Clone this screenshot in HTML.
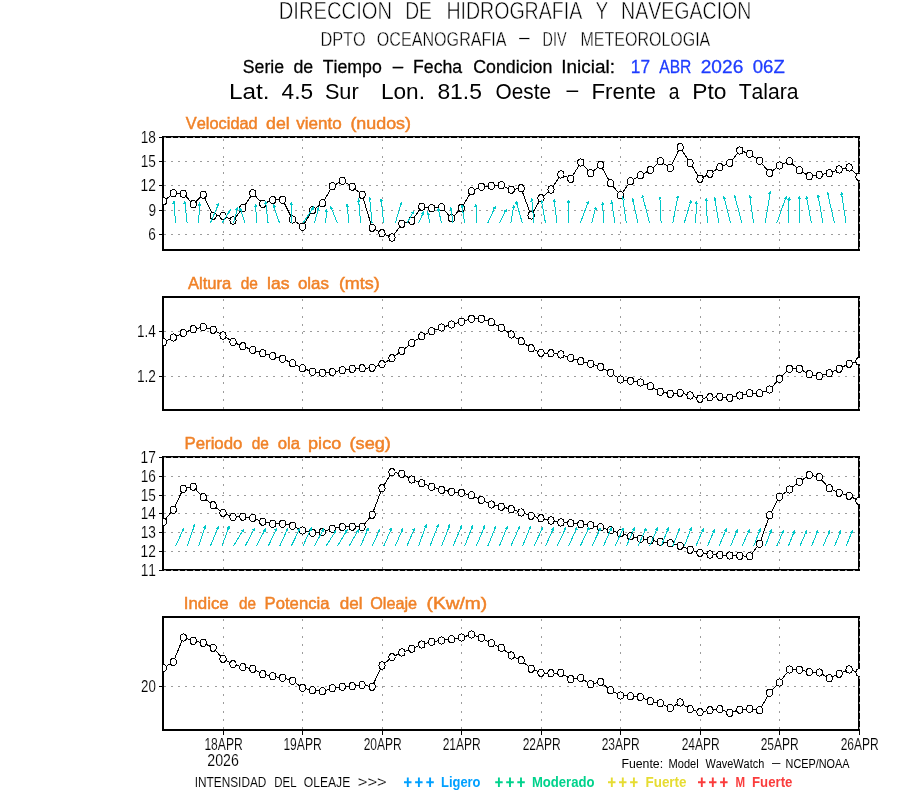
<!DOCTYPE html>
<html lang="es"><head><meta charset="utf-8"><title>Serie de Tiempo - Oleaje</title>
<style>html,body{margin:0;padding:0;background:#fff}body{width:900px;height:800px;overflow:hidden}svg{display:block;font-family:"Liberation Sans",sans-serif;font-kerning:none;will-change:transform}.g{stroke:#9c9c9c;stroke-width:1;fill:none;shape-rendering:crispEdges}.f{stroke:#000;stroke-width:2;fill:none}.l{stroke:#000;stroke-width:1;fill:none;stroke-linejoin:round;shape-rendering:crispEdges}.m{stroke:#000;stroke-width:1;fill:#fff;shape-rendering:crispEdges}.a{stroke:#00c8c8;stroke-width:1;fill:none;stroke-linecap:butt;shape-rendering:crispEdges}.t{stroke:#000;stroke-width:1;fill:none;shape-rendering:crispEdges}</style></head><body>
<svg width="900" height="800" viewBox="0 0 900 800">
<rect width="900" height="800" fill="#fff"/>
<g font-size="24.71" fill="#000" stroke="#fff" stroke-width="0.55">
<text x="278.8" y="19.0" textLength="113.2" lengthAdjust="spacingAndGlyphs">DIRECCION</text>
<text x="405.2" y="19.0" textLength="26.8" lengthAdjust="spacingAndGlyphs">DE</text>
<text x="446.4" y="19.0" textLength="135.8" lengthAdjust="spacingAndGlyphs">HIDROGRAFIA</text>
<text x="595.5" y="19.0" textLength="12.8" lengthAdjust="spacingAndGlyphs">Y</text>
<text x="621.1" y="19.0" textLength="130.3" lengthAdjust="spacingAndGlyphs">NAVEGACION</text>
</g>
<g font-size="20.35" fill="#000" stroke="#fff" stroke-width="0.40">
<text x="320.4" y="46.0" textLength="45.4" lengthAdjust="spacingAndGlyphs">DPTO</text>
<text x="376.8" y="46.0" textLength="129.8" lengthAdjust="spacingAndGlyphs">OCEANOGRAFIA</text>
<text x="519.0" y="44.3" textLength="10.7" lengthAdjust="spacingAndGlyphs">&#8211;</text>
<text x="542.6" y="46.0" textLength="24.0" lengthAdjust="spacingAndGlyphs">DIV</text>
<text x="580.5" y="46.0" textLength="129.8" lengthAdjust="spacingAndGlyphs">METEOROLOGIA</text>
</g>
<g font-size="18.60" fill="#000" stroke="#000" stroke-width="0.28">
<text x="242.8" y="73.0" textLength="41.2" lengthAdjust="spacingAndGlyphs">Serie</text>
<text x="293.5" y="73.0" textLength="19.7" lengthAdjust="spacingAndGlyphs">de</text>
<text x="322.7" y="73.0" textLength="59.1" lengthAdjust="spacingAndGlyphs">Tiempo</text>
<text x="392.7" y="71.5" textLength="10.4" lengthAdjust="spacingAndGlyphs">&#8211;</text>
<text x="413.1" y="73.0" textLength="49.0" lengthAdjust="spacingAndGlyphs">Fecha</text>
<text x="473.2" y="73.0" textLength="79.1" lengthAdjust="spacingAndGlyphs">Condicion</text>
<text x="561.3" y="73.0" textLength="53.6" lengthAdjust="spacingAndGlyphs">Inicial:</text>
</g>
<g font-size="18.60" fill="#1e3cff" stroke="#1e3cff" stroke-width="0.28">
<text x="630.8" y="73.0" textLength="19.2" lengthAdjust="spacingAndGlyphs">17</text>
<text x="659.2" y="73.0" textLength="32.2" lengthAdjust="spacingAndGlyphs">ABR</text>
<text x="700.7" y="73.0" textLength="42.6" lengthAdjust="spacingAndGlyphs">2026</text>
<text x="752.8" y="73.0" textLength="32.0" lengthAdjust="spacingAndGlyphs">06Z</text>
</g>
<g font-size="21.37" fill="#000">
<text x="229.0" y="98.7" textLength="40.6" lengthAdjust="spacingAndGlyphs">Lat.</text>
<text x="281.6" y="98.7" textLength="31.5" lengthAdjust="spacingAndGlyphs">4.5</text>
<text x="324.9" y="98.7" textLength="33.8" lengthAdjust="spacingAndGlyphs">Sur</text>
<text x="380.9" y="98.7" textLength="44.1" lengthAdjust="spacingAndGlyphs">Lon.</text>
<text x="437.4" y="98.7" textLength="44.5" lengthAdjust="spacingAndGlyphs">81.5</text>
<text x="495.5" y="98.7" textLength="55.5" lengthAdjust="spacingAndGlyphs">Oeste</text>
<text x="566.4" y="96.9" textLength="11.7" lengthAdjust="spacingAndGlyphs">&#8211;</text>
<text x="591.4" y="98.7" textLength="64.6" lengthAdjust="spacingAndGlyphs">Frente</text>
<text x="668.7" y="98.7" textLength="10.7" lengthAdjust="spacingAndGlyphs">a</text>
<text x="692.2" y="98.7" textLength="34.2" lengthAdjust="spacingAndGlyphs">Pto</text>
<text x="738.7" y="98.7" textLength="59.9" lengthAdjust="spacingAndGlyphs">Talara</text>
</g>
<clipPath id="c0"><rect x="163.0" y="136.0" width="697.0" height="115.0"/></clipPath>
<g font-size="15.84" fill="#f08228" stroke="#f08228" stroke-width="0.45">
<text x="185.8" y="128.7" textLength="71.9" lengthAdjust="spacingAndGlyphs">Velocidad</text>
<text x="266.1" y="128.7" textLength="23.6" lengthAdjust="spacingAndGlyphs">del</text>
<text x="296.2" y="128.7" textLength="45.5" lengthAdjust="spacingAndGlyphs">viento</text>
<text x="350.4" y="128.7" textLength="60.6" lengthAdjust="spacingAndGlyphs">(nudos)</text>
</g>
<rect class="f" x="163.0" y="137.0" width="696.0" height="113.0"/>
<path class="g" stroke-dasharray="2 5.33" d="M163.5 137.5H860.0M163.5 161.5H860.0M163.5 185.5H860.0M163.5 210.5H860.0M163.5 234.5H860.0"/>
<path class="g" stroke-dasharray="2 6.33" d="M223.5 249.2V137.0M302.5 249.2V137.0M382.5 249.2V137.0M461.5 249.2V137.0M541.5 249.2V137.0M620.5 249.2V137.0M700.5 249.2V137.0M779.5 249.2V137.0M859.5 249.2V137.0"/>
<path class="t" d="M159.0 137.5H162.0M159.0 161.5H162.0M159.0 185.5H162.0M159.0 210.5H162.0M159.0 234.5H162.0"/>
<g font-size="16.57" fill="#000" stroke="#fff" stroke-width="0.15">
<text x="140.7" y="143.2" textLength="15.2" lengthAdjust="spacingAndGlyphs">18</text>
</g>
<g font-size="16.57" fill="#000" stroke="#fff" stroke-width="0.15">
<text x="140.7" y="167.2" textLength="15.2" lengthAdjust="spacingAndGlyphs">15</text>
</g>
<g font-size="16.57" fill="#000" stroke="#fff" stroke-width="0.15">
<text x="140.6" y="191.2" textLength="15.3" lengthAdjust="spacingAndGlyphs">12</text>
</g>
<g font-size="16.57" fill="#000" stroke="#fff" stroke-width="0.15">
<text x="148.4" y="216.2" textLength="7.6" lengthAdjust="spacingAndGlyphs">9</text>
</g>
<g font-size="16.57" fill="#000" stroke="#fff" stroke-width="0.15">
<text x="148.3" y="240.2" textLength="7.6" lengthAdjust="spacingAndGlyphs">6</text>
</g>
<g clip-path="url(#c0)">
<polyline class="l" points="163.4,201.3 173.3,193.3 183.3,193.7 193.2,204.2 203.2,194.7 213.1,215.8 223.0,215.8 233.0,220.5 242.9,208.0 252.8,193.3 262.8,203.8 272.7,200.0 282.6,199.7 292.6,219.5 302.5,226.7 312.5,210.3 322.4,203.3 332.3,186.3 342.3,180.8 352.2,186.7 362.1,194.7 372.1,227.8 382.0,233.3 392.0,237.5 401.9,223.7 411.8,220.8 421.8,206.7 431.7,208.3 441.6,207.2 451.6,218.3 461.5,208.0 471.5,191.2 481.4,186.7 491.3,185.8 501.3,185.3 511.2,189.7 521.1,188.3 531.1,215.5 541.0,198.3 551.0,189.5 560.9,174.5 570.8,178.8 580.8,162.5 590.7,173.3 600.6,165.0 610.6,183.3 620.5,195.3 630.5,181.3 640.4,175.3 650.3,170.0 660.3,161.3 670.2,168.0 680.1,147.2 690.1,163.0 700.0,178.7 710.0,173.7 719.9,167.2 729.8,163.0 739.8,150.5 749.7,153.7 759.6,160.8 769.6,173.0 779.5,165.5 789.5,161.2 799.4,170.3 809.3,176.2 819.3,174.7 829.2,173.3 839.1,169.5 849.1,167.5 859.0,176.7"/>
<ellipse class="m" cx="163.4" cy="201.3" rx="3.1" ry="3.6"/>
<ellipse class="m" cx="173.3" cy="193.3" rx="3.1" ry="3.6"/>
<ellipse class="m" cx="183.3" cy="193.7" rx="3.1" ry="3.6"/>
<ellipse class="m" cx="193.2" cy="204.2" rx="3.1" ry="3.6"/>
<ellipse class="m" cx="203.2" cy="194.7" rx="3.1" ry="3.6"/>
<ellipse class="m" cx="213.1" cy="215.8" rx="3.1" ry="3.6"/>
<ellipse class="m" cx="223.0" cy="215.8" rx="3.1" ry="3.6"/>
<ellipse class="m" cx="233.0" cy="220.5" rx="3.1" ry="3.6"/>
<ellipse class="m" cx="242.9" cy="208.0" rx="3.1" ry="3.6"/>
<ellipse class="m" cx="252.8" cy="193.3" rx="3.1" ry="3.6"/>
<ellipse class="m" cx="262.8" cy="203.8" rx="3.1" ry="3.6"/>
<ellipse class="m" cx="272.7" cy="200.0" rx="3.1" ry="3.6"/>
<ellipse class="m" cx="282.6" cy="199.7" rx="3.1" ry="3.6"/>
<ellipse class="m" cx="292.6" cy="219.5" rx="3.1" ry="3.6"/>
<ellipse class="m" cx="302.5" cy="226.7" rx="3.1" ry="3.6"/>
<ellipse class="m" cx="312.5" cy="210.3" rx="3.1" ry="3.6"/>
<ellipse class="m" cx="322.4" cy="203.3" rx="3.1" ry="3.6"/>
<ellipse class="m" cx="332.3" cy="186.3" rx="3.1" ry="3.6"/>
<ellipse class="m" cx="342.3" cy="180.8" rx="3.1" ry="3.6"/>
<ellipse class="m" cx="352.2" cy="186.7" rx="3.1" ry="3.6"/>
<ellipse class="m" cx="362.1" cy="194.7" rx="3.1" ry="3.6"/>
<ellipse class="m" cx="372.1" cy="227.8" rx="3.1" ry="3.6"/>
<ellipse class="m" cx="382.0" cy="233.3" rx="3.1" ry="3.6"/>
<ellipse class="m" cx="392.0" cy="237.5" rx="3.1" ry="3.6"/>
<ellipse class="m" cx="401.9" cy="223.7" rx="3.1" ry="3.6"/>
<ellipse class="m" cx="411.8" cy="220.8" rx="3.1" ry="3.6"/>
<ellipse class="m" cx="421.8" cy="206.7" rx="3.1" ry="3.6"/>
<ellipse class="m" cx="431.7" cy="208.3" rx="3.1" ry="3.6"/>
<ellipse class="m" cx="441.6" cy="207.2" rx="3.1" ry="3.6"/>
<ellipse class="m" cx="451.6" cy="218.3" rx="3.1" ry="3.6"/>
<ellipse class="m" cx="461.5" cy="208.0" rx="3.1" ry="3.6"/>
<ellipse class="m" cx="471.5" cy="191.2" rx="3.1" ry="3.6"/>
<ellipse class="m" cx="481.4" cy="186.7" rx="3.1" ry="3.6"/>
<ellipse class="m" cx="491.3" cy="185.8" rx="3.1" ry="3.6"/>
<ellipse class="m" cx="501.3" cy="185.3" rx="3.1" ry="3.6"/>
<ellipse class="m" cx="511.2" cy="189.7" rx="3.1" ry="3.6"/>
<ellipse class="m" cx="521.1" cy="188.3" rx="3.1" ry="3.6"/>
<ellipse class="m" cx="531.1" cy="215.5" rx="3.1" ry="3.6"/>
<ellipse class="m" cx="541.0" cy="198.3" rx="3.1" ry="3.6"/>
<ellipse class="m" cx="551.0" cy="189.5" rx="3.1" ry="3.6"/>
<ellipse class="m" cx="560.9" cy="174.5" rx="3.1" ry="3.6"/>
<ellipse class="m" cx="570.8" cy="178.8" rx="3.1" ry="3.6"/>
<ellipse class="m" cx="580.8" cy="162.5" rx="3.1" ry="3.6"/>
<ellipse class="m" cx="590.7" cy="173.3" rx="3.1" ry="3.6"/>
<ellipse class="m" cx="600.6" cy="165.0" rx="3.1" ry="3.6"/>
<ellipse class="m" cx="610.6" cy="183.3" rx="3.1" ry="3.6"/>
<ellipse class="m" cx="620.5" cy="195.3" rx="3.1" ry="3.6"/>
<ellipse class="m" cx="630.5" cy="181.3" rx="3.1" ry="3.6"/>
<ellipse class="m" cx="640.4" cy="175.3" rx="3.1" ry="3.6"/>
<ellipse class="m" cx="650.3" cy="170.0" rx="3.1" ry="3.6"/>
<ellipse class="m" cx="660.3" cy="161.3" rx="3.1" ry="3.6"/>
<ellipse class="m" cx="670.2" cy="168.0" rx="3.1" ry="3.6"/>
<ellipse class="m" cx="680.1" cy="147.2" rx="3.1" ry="3.6"/>
<ellipse class="m" cx="690.1" cy="163.0" rx="3.1" ry="3.6"/>
<ellipse class="m" cx="700.0" cy="178.7" rx="3.1" ry="3.6"/>
<ellipse class="m" cx="710.0" cy="173.7" rx="3.1" ry="3.6"/>
<ellipse class="m" cx="719.9" cy="167.2" rx="3.1" ry="3.6"/>
<ellipse class="m" cx="729.8" cy="163.0" rx="3.1" ry="3.6"/>
<ellipse class="m" cx="739.8" cy="150.5" rx="3.1" ry="3.6"/>
<ellipse class="m" cx="749.7" cy="153.7" rx="3.1" ry="3.6"/>
<ellipse class="m" cx="759.6" cy="160.8" rx="3.1" ry="3.6"/>
<ellipse class="m" cx="769.6" cy="173.0" rx="3.1" ry="3.6"/>
<ellipse class="m" cx="779.5" cy="165.5" rx="3.1" ry="3.6"/>
<ellipse class="m" cx="789.5" cy="161.2" rx="3.1" ry="3.6"/>
<ellipse class="m" cx="799.4" cy="170.3" rx="3.1" ry="3.6"/>
<ellipse class="m" cx="809.3" cy="176.2" rx="3.1" ry="3.6"/>
<ellipse class="m" cx="819.3" cy="174.7" rx="3.1" ry="3.6"/>
<ellipse class="m" cx="829.2" cy="173.3" rx="3.1" ry="3.6"/>
<ellipse class="m" cx="839.1" cy="169.5" rx="3.1" ry="3.6"/>
<ellipse class="m" cx="849.1" cy="167.5" rx="3.1" ry="3.6"/>
<ellipse class="m" cx="859.0" cy="176.7" rx="3.1" ry="3.6"/>
<path class="a" d="M175.6 223.3L173.9 201.3M175.3 203.6L173.9 201.3L172.9 203.8M187.2 223.3L184.7 201.6M186.1 203.8L184.7 201.6L183.7 204.1M198.7 223.3L199.5 203.3M200.6 205.7L199.5 203.3L198.2 205.7M210.3 223.3L218.8 203.3M218.9 206.0L218.8 203.3L216.7 205.0M221.8 223.3L230.1 210.3M229.9 213.0L230.1 210.3L227.8 211.7M233.4 223.3L237.6 207.8M238.1 210.4L237.6 207.8L235.8 209.8M245.0 223.3L240.0 208.3M241.9 210.2L240.0 208.3L239.6 211.0M256.5 223.3L255.7 205.0M257.0 207.3L255.7 205.0L254.6 207.5M268.1 223.3L265.6 201.6M267.0 203.8L265.6 201.6L264.7 204.1M279.6 223.3L273.4 205.0M275.3 206.9L273.4 205.0L273.1 207.7M291.2 223.3L291.2 203.0M292.4 205.4L291.2 203.0L290.0 205.4M302.8 223.3L313.6 207.0M313.2 209.7L313.6 207.0L311.2 208.3M314.3 223.3L318.6 208.0M319.1 210.6L318.6 208.0L316.8 210.0M325.9 223.3L326.2 209.6M327.3 212.0L326.2 209.6L324.9 212.0M337.4 223.3L330.7 206.6M332.7 208.4L330.7 206.6L330.5 209.3M349.0 223.3L347.0 204.6M348.4 206.9L347.0 204.6L346.1 207.1M360.6 223.3L358.6 199.6M360.0 201.9L358.6 199.6L357.6 202.1M372.1 223.3L369.6 198.0M371.1 200.3L369.6 198.0L368.7 200.5M383.7 223.3L381.2 199.1M382.6 201.4L381.2 199.1L380.2 201.6M395.2 223.3L401.5 202.5M402.0 205.1L401.5 202.5L399.7 204.4M406.8 223.3L413.5 211.6M413.3 214.3L413.5 211.6L411.3 213.1M418.4 223.3L423.7 212.0M423.7 214.7L423.7 212.0L421.6 213.7M429.9 223.3L427.7 212.5M429.4 214.6L427.7 212.5L427.0 215.1M441.5 223.3L438.2 208.3M439.9 210.4L438.2 208.3L437.5 210.9M453.0 223.3L450.8 208.0M452.4 210.2L450.8 208.0L450.0 210.5M464.6 223.3L461.9 205.0M463.4 207.2L461.9 205.0L461.1 207.5M476.2 223.3L476.0 204.6M477.2 207.0L476.0 204.6L474.8 207.0M487.7 223.3L495.2 206.6M495.3 209.3L495.2 206.6L493.1 208.3M499.3 223.3L506.3 209.6M506.3 212.3L506.3 209.6L504.1 211.2M510.8 223.3L513.8 205.8M514.6 208.4L513.8 205.8L512.3 208.0M522.4 223.3L516.2 201.6M518.0 203.6L516.2 201.6L515.7 204.2M534.0 223.3L531.7 199.1M533.1 201.4L531.7 199.1L530.7 201.6M545.5 223.3L541.5 200.8M543.1 203.0L541.5 200.8L540.8 203.4M557.1 223.3L554.1 199.6M555.6 201.8L554.1 199.6L553.2 202.1M568.6 223.3L568.3 200.3M569.6 202.7L568.3 200.3L567.2 202.7M580.2 223.3L588.5 201.3M588.8 204.0L588.5 201.3L586.5 203.1M591.8 223.3L595.8 207.0M596.4 209.6L595.8 207.0L594.0 209.0M603.3 223.3L602.8 202.5M604.1 204.9L602.8 202.5L601.7 204.9M614.9 223.3L611.6 201.3M613.1 203.5L611.6 201.3L610.7 203.9M626.4 223.3L622.7 197.5M624.3 199.7L622.7 197.5L621.9 200.0M638.0 223.3L632.7 199.1M634.4 201.2L632.7 199.1L632.0 201.7M649.6 223.3L642.4 195.3M644.1 197.3L642.4 195.3L641.8 197.9M661.1 223.3L659.9 197.0M661.2 199.3L659.9 197.0L658.8 199.5M672.7 223.3L678.0 195.8M678.7 198.4L678.0 195.8L676.3 197.9M684.2 223.3L690.9 200.8M691.4 203.4L690.9 200.8L689.1 202.8M695.8 223.3L696.3 201.6M697.4 204.0L696.3 201.6L695.0 204.0M707.4 223.3L706.2 198.6M707.5 200.9L706.2 198.6L705.1 201.1M718.9 223.3L714.6 198.0M716.2 200.2L714.6 198.0L713.8 200.6M730.5 223.3L723.8 196.6M725.5 198.6L723.8 196.6L723.2 199.2M742.0 223.3L734.5 195.3M736.3 197.3L734.5 195.3L734.0 197.9M753.6 223.3L749.8 195.8M751.3 198.0L749.8 195.8L748.9 198.3M765.2 223.3L770.4 191.6M771.2 194.2L770.4 191.6L768.8 193.8M776.7 223.3L786.2 196.6M786.5 199.3L786.2 196.6L784.3 198.5M788.3 223.3L789.1 197.5M790.2 199.9L789.1 197.5L787.8 199.9M799.8 223.3L799.1 196.6M800.4 199.0L799.1 196.6L798.0 199.0M811.4 223.3L806.4 196.3M808.0 198.4L806.4 196.3L805.7 198.9M823.0 223.3L818.0 195.0M819.6 197.2L818.0 195.0L817.2 197.6M834.5 223.3L827.5 192.5M829.2 194.6L827.5 192.5L826.9 195.1M846.1 223.3L841.4 192.5M842.9 194.7L841.4 192.5L840.6 195.1"/>
</g>
<clipPath id="c1"><rect x="163.0" y="296.0" width="697.0" height="115.0"/></clipPath>
<g font-size="15.84" fill="#f08228" stroke="#f08228" stroke-width="0.45">
<text x="187.9" y="288.7" textLength="43.4" lengthAdjust="spacingAndGlyphs">Altura</text>
<text x="240.7" y="288.7" textLength="17.2" lengthAdjust="spacingAndGlyphs">de</text>
<text x="267.1" y="288.7" textLength="22.5" lengthAdjust="spacingAndGlyphs">las</text>
<text x="297.9" y="288.7" textLength="31.1" lengthAdjust="spacingAndGlyphs">olas</text>
<text x="338.9" y="288.7" textLength="40.9" lengthAdjust="spacingAndGlyphs">(mts)</text>
</g>
<rect class="f" x="163.0" y="297.0" width="696.0" height="113.0"/>
<path class="g" stroke-dasharray="2 5.33" d="M163.5 331.5H860.0M163.5 376.5H860.0"/>
<path class="g" stroke-dasharray="2 6.33" d="M223.5 409.2V297.0M302.5 409.2V297.0M382.5 409.2V297.0M461.5 409.2V297.0M541.5 409.2V297.0M620.5 409.2V297.0M700.5 409.2V297.0M779.5 409.2V297.0M859.5 409.2V297.0"/>
<path class="t" d="M159.0 331.5H162.0M159.0 376.5H162.0"/>
<g font-size="16.57" fill="#000" stroke="#fff" stroke-width="0.15">
<text x="136.9" y="337.2" textLength="18.8" lengthAdjust="spacingAndGlyphs">1.4</text>
</g>
<g font-size="16.57" fill="#000" stroke="#fff" stroke-width="0.15">
<text x="136.9" y="382.2" textLength="19.1" lengthAdjust="spacingAndGlyphs">1.2</text>
</g>
<g clip-path="url(#c1)">
<polyline class="l" points="163.4,342.2 173.3,337.5 183.3,333.0 193.2,329.2 203.2,327.0 213.1,329.7 223.0,335.5 233.0,342.0 242.9,346.3 252.8,350.0 262.8,353.3 272.7,356.0 282.6,358.7 292.6,363.3 302.5,368.3 312.5,371.7 322.4,372.8 332.3,372.0 342.3,370.3 352.2,368.8 362.1,368.3 372.1,367.8 382.0,364.2 392.0,358.3 401.9,350.8 411.8,343.0 421.8,336.3 431.7,331.3 441.6,327.5 451.6,324.5 461.5,321.7 471.5,318.8 481.4,318.8 491.3,322.2 501.3,327.8 511.2,334.5 521.1,341.3 531.1,348.3 541.0,352.8 551.0,353.3 560.9,354.5 570.8,358.0 580.8,361.2 590.7,363.7 600.6,367.0 610.6,372.8 620.5,379.5 630.5,380.8 640.4,382.5 650.3,386.3 660.3,391.7 670.2,393.8 680.1,392.8 690.1,395.5 700.0,398.7 710.0,397.3 719.9,396.7 729.8,397.8 739.8,395.5 749.7,393.3 759.6,393.3 769.6,389.5 779.5,378.8 789.5,368.8 799.4,368.8 809.3,374.2 819.3,376.2 829.2,373.3 839.1,368.7 849.1,363.7 859.0,361.3"/>
<ellipse class="m" cx="163.4" cy="342.2" rx="3.1" ry="3.6"/>
<ellipse class="m" cx="173.3" cy="337.5" rx="3.1" ry="3.6"/>
<ellipse class="m" cx="183.3" cy="333.0" rx="3.1" ry="3.6"/>
<ellipse class="m" cx="193.2" cy="329.2" rx="3.1" ry="3.6"/>
<ellipse class="m" cx="203.2" cy="327.0" rx="3.1" ry="3.6"/>
<ellipse class="m" cx="213.1" cy="329.7" rx="3.1" ry="3.6"/>
<ellipse class="m" cx="223.0" cy="335.5" rx="3.1" ry="3.6"/>
<ellipse class="m" cx="233.0" cy="342.0" rx="3.1" ry="3.6"/>
<ellipse class="m" cx="242.9" cy="346.3" rx="3.1" ry="3.6"/>
<ellipse class="m" cx="252.8" cy="350.0" rx="3.1" ry="3.6"/>
<ellipse class="m" cx="262.8" cy="353.3" rx="3.1" ry="3.6"/>
<ellipse class="m" cx="272.7" cy="356.0" rx="3.1" ry="3.6"/>
<ellipse class="m" cx="282.6" cy="358.7" rx="3.1" ry="3.6"/>
<ellipse class="m" cx="292.6" cy="363.3" rx="3.1" ry="3.6"/>
<ellipse class="m" cx="302.5" cy="368.3" rx="3.1" ry="3.6"/>
<ellipse class="m" cx="312.5" cy="371.7" rx="3.1" ry="3.6"/>
<ellipse class="m" cx="322.4" cy="372.8" rx="3.1" ry="3.6"/>
<ellipse class="m" cx="332.3" cy="372.0" rx="3.1" ry="3.6"/>
<ellipse class="m" cx="342.3" cy="370.3" rx="3.1" ry="3.6"/>
<ellipse class="m" cx="352.2" cy="368.8" rx="3.1" ry="3.6"/>
<ellipse class="m" cx="362.1" cy="368.3" rx="3.1" ry="3.6"/>
<ellipse class="m" cx="372.1" cy="367.8" rx="3.1" ry="3.6"/>
<ellipse class="m" cx="382.0" cy="364.2" rx="3.1" ry="3.6"/>
<ellipse class="m" cx="392.0" cy="358.3" rx="3.1" ry="3.6"/>
<ellipse class="m" cx="401.9" cy="350.8" rx="3.1" ry="3.6"/>
<ellipse class="m" cx="411.8" cy="343.0" rx="3.1" ry="3.6"/>
<ellipse class="m" cx="421.8" cy="336.3" rx="3.1" ry="3.6"/>
<ellipse class="m" cx="431.7" cy="331.3" rx="3.1" ry="3.6"/>
<ellipse class="m" cx="441.6" cy="327.5" rx="3.1" ry="3.6"/>
<ellipse class="m" cx="451.6" cy="324.5" rx="3.1" ry="3.6"/>
<ellipse class="m" cx="461.5" cy="321.7" rx="3.1" ry="3.6"/>
<ellipse class="m" cx="471.5" cy="318.8" rx="3.1" ry="3.6"/>
<ellipse class="m" cx="481.4" cy="318.8" rx="3.1" ry="3.6"/>
<ellipse class="m" cx="491.3" cy="322.2" rx="3.1" ry="3.6"/>
<ellipse class="m" cx="501.3" cy="327.8" rx="3.1" ry="3.6"/>
<ellipse class="m" cx="511.2" cy="334.5" rx="3.1" ry="3.6"/>
<ellipse class="m" cx="521.1" cy="341.3" rx="3.1" ry="3.6"/>
<ellipse class="m" cx="531.1" cy="348.3" rx="3.1" ry="3.6"/>
<ellipse class="m" cx="541.0" cy="352.8" rx="3.1" ry="3.6"/>
<ellipse class="m" cx="551.0" cy="353.3" rx="3.1" ry="3.6"/>
<ellipse class="m" cx="560.9" cy="354.5" rx="3.1" ry="3.6"/>
<ellipse class="m" cx="570.8" cy="358.0" rx="3.1" ry="3.6"/>
<ellipse class="m" cx="580.8" cy="361.2" rx="3.1" ry="3.6"/>
<ellipse class="m" cx="590.7" cy="363.7" rx="3.1" ry="3.6"/>
<ellipse class="m" cx="600.6" cy="367.0" rx="3.1" ry="3.6"/>
<ellipse class="m" cx="610.6" cy="372.8" rx="3.1" ry="3.6"/>
<ellipse class="m" cx="620.5" cy="379.5" rx="3.1" ry="3.6"/>
<ellipse class="m" cx="630.5" cy="380.8" rx="3.1" ry="3.6"/>
<ellipse class="m" cx="640.4" cy="382.5" rx="3.1" ry="3.6"/>
<ellipse class="m" cx="650.3" cy="386.3" rx="3.1" ry="3.6"/>
<ellipse class="m" cx="660.3" cy="391.7" rx="3.1" ry="3.6"/>
<ellipse class="m" cx="670.2" cy="393.8" rx="3.1" ry="3.6"/>
<ellipse class="m" cx="680.1" cy="392.8" rx="3.1" ry="3.6"/>
<ellipse class="m" cx="690.1" cy="395.5" rx="3.1" ry="3.6"/>
<ellipse class="m" cx="700.0" cy="398.7" rx="3.1" ry="3.6"/>
<ellipse class="m" cx="710.0" cy="397.3" rx="3.1" ry="3.6"/>
<ellipse class="m" cx="719.9" cy="396.7" rx="3.1" ry="3.6"/>
<ellipse class="m" cx="729.8" cy="397.8" rx="3.1" ry="3.6"/>
<ellipse class="m" cx="739.8" cy="395.5" rx="3.1" ry="3.6"/>
<ellipse class="m" cx="749.7" cy="393.3" rx="3.1" ry="3.6"/>
<ellipse class="m" cx="759.6" cy="393.3" rx="3.1" ry="3.6"/>
<ellipse class="m" cx="769.6" cy="389.5" rx="3.1" ry="3.6"/>
<ellipse class="m" cx="779.5" cy="378.8" rx="3.1" ry="3.6"/>
<ellipse class="m" cx="789.5" cy="368.8" rx="3.1" ry="3.6"/>
<ellipse class="m" cx="799.4" cy="368.8" rx="3.1" ry="3.6"/>
<ellipse class="m" cx="809.3" cy="374.2" rx="3.1" ry="3.6"/>
<ellipse class="m" cx="819.3" cy="376.2" rx="3.1" ry="3.6"/>
<ellipse class="m" cx="829.2" cy="373.3" rx="3.1" ry="3.6"/>
<ellipse class="m" cx="839.1" cy="368.7" rx="3.1" ry="3.6"/>
<ellipse class="m" cx="849.1" cy="363.7" rx="3.1" ry="3.6"/>
<ellipse class="m" cx="859.0" cy="361.3" rx="3.1" ry="3.6"/>
</g>
<clipPath id="c2"><rect x="163.0" y="456.0" width="697.0" height="115.0"/></clipPath>
<g font-size="15.84" fill="#f08228" stroke="#f08228" stroke-width="0.45">
<text x="184.5" y="448.7" textLength="57.9" lengthAdjust="spacingAndGlyphs">Periodo</text>
<text x="251.7" y="448.7" textLength="17.2" lengthAdjust="spacingAndGlyphs">de</text>
<text x="277.7" y="448.7" textLength="22.3" lengthAdjust="spacingAndGlyphs">ola</text>
<text x="308.1" y="448.7" textLength="33.1" lengthAdjust="spacingAndGlyphs">pico</text>
<text x="349.5" y="448.7" textLength="41.4" lengthAdjust="spacingAndGlyphs">(seg)</text>
</g>
<rect class="f" x="163.0" y="457.0" width="696.0" height="113.0"/>
<path class="g" stroke-dasharray="2 5.33" d="M163.5 457.5H860.0M163.5 476.5H860.0M163.5 495.5H860.0M163.5 513.5H860.0M163.5 532.5H860.0M163.5 551.5H860.0M163.5 570.5H860.0"/>
<path class="g" stroke-dasharray="2 6.33" d="M223.5 569.2V457.0M302.5 569.2V457.0M382.5 569.2V457.0M461.5 569.2V457.0M541.5 569.2V457.0M620.5 569.2V457.0M700.5 569.2V457.0M779.5 569.2V457.0M859.5 569.2V457.0"/>
<path class="t" d="M159.0 457.5H162.0M159.0 476.5H162.0M159.0 495.5H162.0M159.0 513.5H162.0M159.0 532.5H162.0M159.0 551.5H162.0M159.0 570.5H162.0"/>
<g font-size="16.57" fill="#000" stroke="#fff" stroke-width="0.15">
<text x="140.6" y="463.2" textLength="15.3" lengthAdjust="spacingAndGlyphs">17</text>
</g>
<g font-size="16.57" fill="#000" stroke="#fff" stroke-width="0.15">
<text x="140.7" y="482.2" textLength="15.2" lengthAdjust="spacingAndGlyphs">16</text>
</g>
<g font-size="16.57" fill="#000" stroke="#fff" stroke-width="0.15">
<text x="140.7" y="501.2" textLength="15.2" lengthAdjust="spacingAndGlyphs">15</text>
</g>
<g font-size="16.57" fill="#000" stroke="#fff" stroke-width="0.15">
<text x="140.7" y="519.2" textLength="15.0" lengthAdjust="spacingAndGlyphs">14</text>
</g>
<g font-size="16.57" fill="#000" stroke="#fff" stroke-width="0.15">
<text x="140.7" y="538.2" textLength="15.2" lengthAdjust="spacingAndGlyphs">13</text>
</g>
<g font-size="16.57" fill="#000" stroke="#fff" stroke-width="0.15">
<text x="140.6" y="557.2" textLength="15.3" lengthAdjust="spacingAndGlyphs">12</text>
</g>
<g font-size="16.57" fill="#000" stroke="#fff" stroke-width="0.15">
<text x="140.7" y="576.2" textLength="15.3" lengthAdjust="spacingAndGlyphs">11</text>
</g>
<g clip-path="url(#c2)">
<polyline class="l" points="163.4,521.7 173.3,509.7 183.3,488.7 193.2,486.7 203.2,497.2 213.1,505.3 223.0,512.8 233.0,517.0 242.9,516.7 252.8,518.0 262.8,521.7 272.7,523.7 282.6,523.7 292.6,525.8 302.5,530.5 312.5,532.8 322.4,532.0 332.3,528.7 342.3,527.0 352.2,526.7 362.1,527.0 372.1,514.7 382.0,488.3 392.0,472.2 401.9,473.8 411.8,479.5 421.8,483.3 431.7,486.7 441.6,490.0 451.6,491.7 461.5,492.8 471.5,495.3 481.4,500.0 491.3,504.5 501.3,506.7 511.2,509.2 521.1,512.5 531.1,515.8 541.0,518.3 551.0,520.5 560.9,522.5 570.8,523.3 580.8,524.2 590.7,525.3 600.6,527.2 610.6,530.3 620.5,533.3 630.5,536.2 640.4,538.7 650.3,540.3 660.3,541.7 670.2,543.3 680.1,545.8 690.1,549.7 700.0,552.8 710.0,554.5 719.9,555.0 729.8,555.5 739.8,555.8 749.7,556.3 759.6,543.7 769.6,515.3 779.5,496.7 789.5,489.5 799.4,481.7 809.3,475.0 819.3,477.2 829.2,488.3 839.1,492.8 849.1,495.8 859.0,500.8"/>
<ellipse class="m" cx="163.4" cy="521.7" rx="3.1" ry="3.6"/>
<ellipse class="m" cx="173.3" cy="509.7" rx="3.1" ry="3.6"/>
<ellipse class="m" cx="183.3" cy="488.7" rx="3.1" ry="3.6"/>
<ellipse class="m" cx="193.2" cy="486.7" rx="3.1" ry="3.6"/>
<ellipse class="m" cx="203.2" cy="497.2" rx="3.1" ry="3.6"/>
<ellipse class="m" cx="213.1" cy="505.3" rx="3.1" ry="3.6"/>
<ellipse class="m" cx="223.0" cy="512.8" rx="3.1" ry="3.6"/>
<ellipse class="m" cx="233.0" cy="517.0" rx="3.1" ry="3.6"/>
<ellipse class="m" cx="242.9" cy="516.7" rx="3.1" ry="3.6"/>
<ellipse class="m" cx="252.8" cy="518.0" rx="3.1" ry="3.6"/>
<ellipse class="m" cx="262.8" cy="521.7" rx="3.1" ry="3.6"/>
<ellipse class="m" cx="272.7" cy="523.7" rx="3.1" ry="3.6"/>
<ellipse class="m" cx="282.6" cy="523.7" rx="3.1" ry="3.6"/>
<ellipse class="m" cx="292.6" cy="525.8" rx="3.1" ry="3.6"/>
<ellipse class="m" cx="302.5" cy="530.5" rx="3.1" ry="3.6"/>
<ellipse class="m" cx="312.5" cy="532.8" rx="3.1" ry="3.6"/>
<ellipse class="m" cx="322.4" cy="532.0" rx="3.1" ry="3.6"/>
<ellipse class="m" cx="332.3" cy="528.7" rx="3.1" ry="3.6"/>
<ellipse class="m" cx="342.3" cy="527.0" rx="3.1" ry="3.6"/>
<ellipse class="m" cx="352.2" cy="526.7" rx="3.1" ry="3.6"/>
<ellipse class="m" cx="362.1" cy="527.0" rx="3.1" ry="3.6"/>
<ellipse class="m" cx="372.1" cy="514.7" rx="3.1" ry="3.6"/>
<ellipse class="m" cx="382.0" cy="488.3" rx="3.1" ry="3.6"/>
<ellipse class="m" cx="392.0" cy="472.2" rx="3.1" ry="3.6"/>
<ellipse class="m" cx="401.9" cy="473.8" rx="3.1" ry="3.6"/>
<ellipse class="m" cx="411.8" cy="479.5" rx="3.1" ry="3.6"/>
<ellipse class="m" cx="421.8" cy="483.3" rx="3.1" ry="3.6"/>
<ellipse class="m" cx="431.7" cy="486.7" rx="3.1" ry="3.6"/>
<ellipse class="m" cx="441.6" cy="490.0" rx="3.1" ry="3.6"/>
<ellipse class="m" cx="451.6" cy="491.7" rx="3.1" ry="3.6"/>
<ellipse class="m" cx="461.5" cy="492.8" rx="3.1" ry="3.6"/>
<ellipse class="m" cx="471.5" cy="495.3" rx="3.1" ry="3.6"/>
<ellipse class="m" cx="481.4" cy="500.0" rx="3.1" ry="3.6"/>
<ellipse class="m" cx="491.3" cy="504.5" rx="3.1" ry="3.6"/>
<ellipse class="m" cx="501.3" cy="506.7" rx="3.1" ry="3.6"/>
<ellipse class="m" cx="511.2" cy="509.2" rx="3.1" ry="3.6"/>
<ellipse class="m" cx="521.1" cy="512.5" rx="3.1" ry="3.6"/>
<ellipse class="m" cx="531.1" cy="515.8" rx="3.1" ry="3.6"/>
<ellipse class="m" cx="541.0" cy="518.3" rx="3.1" ry="3.6"/>
<ellipse class="m" cx="551.0" cy="520.5" rx="3.1" ry="3.6"/>
<ellipse class="m" cx="560.9" cy="522.5" rx="3.1" ry="3.6"/>
<ellipse class="m" cx="570.8" cy="523.3" rx="3.1" ry="3.6"/>
<ellipse class="m" cx="580.8" cy="524.2" rx="3.1" ry="3.6"/>
<ellipse class="m" cx="590.7" cy="525.3" rx="3.1" ry="3.6"/>
<ellipse class="m" cx="600.6" cy="527.2" rx="3.1" ry="3.6"/>
<ellipse class="m" cx="610.6" cy="530.3" rx="3.1" ry="3.6"/>
<ellipse class="m" cx="620.5" cy="533.3" rx="3.1" ry="3.6"/>
<ellipse class="m" cx="630.5" cy="536.2" rx="3.1" ry="3.6"/>
<ellipse class="m" cx="640.4" cy="538.7" rx="3.1" ry="3.6"/>
<ellipse class="m" cx="650.3" cy="540.3" rx="3.1" ry="3.6"/>
<ellipse class="m" cx="660.3" cy="541.7" rx="3.1" ry="3.6"/>
<ellipse class="m" cx="670.2" cy="543.3" rx="3.1" ry="3.6"/>
<ellipse class="m" cx="680.1" cy="545.8" rx="3.1" ry="3.6"/>
<ellipse class="m" cx="690.1" cy="549.7" rx="3.1" ry="3.6"/>
<ellipse class="m" cx="700.0" cy="552.8" rx="3.1" ry="3.6"/>
<ellipse class="m" cx="710.0" cy="554.5" rx="3.1" ry="3.6"/>
<ellipse class="m" cx="719.9" cy="555.0" rx="3.1" ry="3.6"/>
<ellipse class="m" cx="729.8" cy="555.5" rx="3.1" ry="3.6"/>
<ellipse class="m" cx="739.8" cy="555.8" rx="3.1" ry="3.6"/>
<ellipse class="m" cx="749.7" cy="556.3" rx="3.1" ry="3.6"/>
<ellipse class="m" cx="759.6" cy="543.7" rx="3.1" ry="3.6"/>
<ellipse class="m" cx="769.6" cy="515.3" rx="3.1" ry="3.6"/>
<ellipse class="m" cx="779.5" cy="496.7" rx="3.1" ry="3.6"/>
<ellipse class="m" cx="789.5" cy="489.5" rx="3.1" ry="3.6"/>
<ellipse class="m" cx="799.4" cy="481.7" rx="3.1" ry="3.6"/>
<ellipse class="m" cx="809.3" cy="475.0" rx="3.1" ry="3.6"/>
<ellipse class="m" cx="819.3" cy="477.2" rx="3.1" ry="3.6"/>
<ellipse class="m" cx="829.2" cy="488.3" rx="3.1" ry="3.6"/>
<ellipse class="m" cx="839.1" cy="492.8" rx="3.1" ry="3.6"/>
<ellipse class="m" cx="849.1" cy="495.8" rx="3.1" ry="3.6"/>
<ellipse class="m" cx="859.0" cy="500.8" rx="3.1" ry="3.6"/>
<path class="a" d="M175.6 546.3L183.6 528.6M183.7 531.3L183.6 528.6L181.5 530.3M187.2 546.3L194.7 524.6M195.0 527.3L194.7 524.6L192.7 526.5M198.7 546.3L205.4 525.8M205.8 528.5L205.4 525.8L203.5 527.7M210.3 546.3L218.3 526.6M218.5 529.3L218.3 526.6L216.3 528.4M221.8 546.3L229.1 526.6M229.4 529.3L229.1 526.6L227.2 528.4M233.4 546.3L243.4 529.6M243.2 532.3L243.4 529.6L241.1 531.0M245.0 546.3L254.5 528.6M254.4 531.3L254.5 528.6L252.3 530.1M256.5 546.3L265.2 529.1M265.2 531.8L265.2 529.1L263.1 530.7M268.1 546.3L276.9 528.3M276.9 531.0L276.9 528.3L274.7 529.9M279.6 546.3L287.9 528.3M288.0 531.0L287.9 528.3L285.8 530.0M291.2 546.3L299.9 528.3M299.9 531.0L299.9 528.3L297.8 529.9M302.8 546.3L311.1 528.3M311.1 531.0L311.1 528.3L309.0 530.0M314.3 546.3L323.5 529.1M323.4 531.8L323.5 529.1L321.3 530.7M325.9 546.3L335.9 530.8M335.6 533.5L335.9 530.8L333.6 532.2M337.4 546.3L347.1 530.0M346.9 532.7L347.1 530.0L344.9 531.4M349.0 546.3L358.2 530.3M358.0 533.0L358.2 530.3L356.0 531.8M360.6 546.3L368.1 528.6M368.2 531.3L368.1 528.6L366.0 530.3M372.1 546.3L379.9 529.1M380.0 531.8L379.9 529.1L377.8 530.8M383.7 546.3L391.5 528.3M391.6 531.0L391.5 528.3L389.4 530.0M395.2 546.3L402.7 528.8M402.9 531.5L402.7 528.8L400.7 530.5M406.8 546.3L414.6 528.3M414.7 531.0L414.6 528.3L412.5 530.0M418.4 546.3L426.2 525.0M426.5 527.7L426.2 525.0L424.2 526.8M429.9 546.3L438.4 524.6M438.7 527.3L438.4 524.6L436.4 526.4M441.5 546.3L449.8 524.8M450.0 527.5L449.8 524.8L447.8 526.6M453.0 546.3L461.7 525.8M461.9 528.5L461.7 525.8L459.7 527.5M464.6 546.3L472.6 525.8M472.8 528.5L472.6 525.8L470.6 527.6M476.2 546.3L484.9 525.8M485.0 528.5L484.9 525.8L482.8 527.5M487.7 546.3L495.7 526.6M495.9 529.3L495.7 526.6L493.7 528.4M499.3 546.3L507.3 526.6M507.5 529.3L507.3 526.6L505.3 528.4M510.8 546.3L519.6 526.6M519.8 529.3L519.6 526.6L517.6 528.3M522.4 546.3L530.6 526.6M530.8 529.3L530.6 526.6L528.6 528.4M534.0 546.3L542.7 527.5M542.7 530.2L542.7 527.5L540.6 529.2M545.5 546.3L553.5 528.0M553.7 530.7L553.5 528.0L551.5 529.7M557.1 546.3L565.9 527.5M565.9 530.2L565.9 527.5L563.8 529.2M568.6 546.3L576.9 527.5M577.1 530.2L576.9 527.5L574.9 529.2M580.2 546.3L589.0 527.5M589.1 530.2L589.0 527.5L586.9 529.2M591.8 546.3L600.5 528.3M600.5 531.0L600.5 528.3L598.3 529.9M603.3 546.3L611.3 528.3M611.4 531.0L611.3 528.3L609.2 530.0M614.9 546.3L623.4 528.3M623.4 531.0L623.4 528.3L621.3 530.0M626.4 546.3L634.2 528.3M634.4 531.0L634.2 528.3L632.2 530.0M638.0 546.3L646.0 528.3M646.1 531.0L646.0 528.3L643.9 530.0M649.6 546.3L657.3 528.3M657.4 531.0L657.3 528.3L655.2 530.0M661.1 546.3L668.3 528.3M668.5 531.0L668.3 528.3L666.3 530.1M672.7 546.3L679.7 528.3M679.9 531.0L679.7 528.3L677.7 530.1M684.2 546.3L691.2 528.3M691.5 531.0L691.2 528.3L689.3 530.1M695.8 546.3L703.3 529.1M703.4 531.8L703.3 529.1L701.2 530.8M707.4 546.3L714.4 530.0M714.5 532.7L714.4 530.0L712.3 531.7M718.9 546.3L726.4 529.1M726.6 531.8L726.4 529.1L724.4 530.8M730.5 546.3L737.3 530.0M737.5 532.7L737.3 530.0L735.2 531.8M742.0 546.3L749.2 530.0M749.4 532.7L749.2 530.0L747.2 531.7M753.6 546.3L760.3 529.1M760.5 531.8L760.3 529.1L758.3 530.9M765.2 546.3L771.2 530.3M771.4 533.0L771.2 530.3L769.2 532.1M776.7 546.3L783.4 530.8M783.6 533.5L783.4 530.8L781.4 532.5M788.3 546.3L794.5 530.8M794.7 533.5L794.5 530.8L792.5 532.6M799.8 546.3L806.6 530.8M806.8 533.5L806.6 530.8L804.6 532.5M811.4 546.3L817.9 530.8M818.1 533.5L817.9 530.8L815.9 532.5M823.0 546.3L829.7 530.8M829.8 533.5L829.7 530.8L827.6 532.5M834.5 546.3L840.8 530.8M841.0 533.5L840.8 530.8L838.8 532.6M846.1 546.3L852.3 530.8M852.5 533.5L852.3 530.8L850.3 532.6"/>
</g>
<clipPath id="c3"><rect x="163.0" y="616.0" width="697.0" height="115.0"/></clipPath>
<g font-size="15.84" fill="#f08228" stroke="#f08228" stroke-width="0.45">
<text x="183.8" y="608.7" textLength="44.9" lengthAdjust="spacingAndGlyphs">Indice</text>
<text x="239.1" y="608.7" textLength="17.0" lengthAdjust="spacingAndGlyphs">de</text>
<text x="264.6" y="608.7" textLength="64.9" lengthAdjust="spacingAndGlyphs">Potencia</text>
<text x="339.8" y="608.7" textLength="22.8" lengthAdjust="spacingAndGlyphs">del</text>
<text x="370.2" y="608.7" textLength="46.9" lengthAdjust="spacingAndGlyphs">Oleaje</text>
<text x="426.6" y="608.7" textLength="60.6" lengthAdjust="spacingAndGlyphs">(Kw/m)</text>
</g>
<rect class="f" x="163.0" y="617.0" width="696.0" height="113.0"/>
<path class="g" stroke-dasharray="2 5.33" d="M163.5 686.5H860.0"/>
<path class="g" stroke-dasharray="2 6.33" d="M223.5 729.2V617.0M302.5 729.2V617.0M382.5 729.2V617.0M461.5 729.2V617.0M541.5 729.2V617.0M620.5 729.2V617.0M700.5 729.2V617.0M779.5 729.2V617.0M859.5 729.2V617.0"/>
<path class="t" d="M159.0 686.5H162.0"/>
<g font-size="16.57" fill="#000" stroke="#fff" stroke-width="0.15">
<text x="141.0" y="692.2" textLength="14.8" lengthAdjust="spacingAndGlyphs">20</text>
</g>
<g clip-path="url(#c3)">
<polyline class="l" points="163.4,668.0 173.3,662.0 183.3,637.5 193.2,640.8 203.2,642.8 213.1,647.8 223.0,658.8 233.0,664.2 242.9,667.2 252.8,668.8 262.8,674.2 272.7,676.3 282.6,677.8 292.6,680.8 302.5,687.8 312.5,690.3 322.4,691.3 332.3,688.3 342.3,686.7 352.2,686.2 362.1,685.0 372.1,686.7 382.0,665.5 392.0,657.2 401.9,652.5 411.8,648.7 421.8,644.5 431.7,641.7 441.6,640.5 451.6,639.2 461.5,637.5 471.5,634.5 481.4,637.8 491.3,643.3 501.3,647.8 511.2,655.5 521.1,660.3 531.1,668.7 541.0,672.8 551.0,673.3 560.9,672.8 570.8,679.2 580.8,678.0 590.7,684.2 600.6,682.0 610.6,690.3 620.5,695.5 630.5,696.3 640.4,697.0 650.3,701.2 660.3,703.3 670.2,708.0 680.1,702.5 690.1,709.2 700.0,712.2 710.0,710.3 719.9,709.2 729.8,712.8 739.8,709.7 749.7,708.8 759.6,710.3 769.6,692.8 779.5,682.5 789.5,669.5 799.4,669.7 809.3,672.0 819.3,672.5 829.2,678.3 839.1,673.7 849.1,669.5 859.0,672.5"/>
<ellipse class="m" cx="163.4" cy="668.0" rx="3.1" ry="3.6"/>
<ellipse class="m" cx="173.3" cy="662.0" rx="3.1" ry="3.6"/>
<ellipse class="m" cx="183.3" cy="637.5" rx="3.1" ry="3.6"/>
<ellipse class="m" cx="193.2" cy="640.8" rx="3.1" ry="3.6"/>
<ellipse class="m" cx="203.2" cy="642.8" rx="3.1" ry="3.6"/>
<ellipse class="m" cx="213.1" cy="647.8" rx="3.1" ry="3.6"/>
<ellipse class="m" cx="223.0" cy="658.8" rx="3.1" ry="3.6"/>
<ellipse class="m" cx="233.0" cy="664.2" rx="3.1" ry="3.6"/>
<ellipse class="m" cx="242.9" cy="667.2" rx="3.1" ry="3.6"/>
<ellipse class="m" cx="252.8" cy="668.8" rx="3.1" ry="3.6"/>
<ellipse class="m" cx="262.8" cy="674.2" rx="3.1" ry="3.6"/>
<ellipse class="m" cx="272.7" cy="676.3" rx="3.1" ry="3.6"/>
<ellipse class="m" cx="282.6" cy="677.8" rx="3.1" ry="3.6"/>
<ellipse class="m" cx="292.6" cy="680.8" rx="3.1" ry="3.6"/>
<ellipse class="m" cx="302.5" cy="687.8" rx="3.1" ry="3.6"/>
<ellipse class="m" cx="312.5" cy="690.3" rx="3.1" ry="3.6"/>
<ellipse class="m" cx="322.4" cy="691.3" rx="3.1" ry="3.6"/>
<ellipse class="m" cx="332.3" cy="688.3" rx="3.1" ry="3.6"/>
<ellipse class="m" cx="342.3" cy="686.7" rx="3.1" ry="3.6"/>
<ellipse class="m" cx="352.2" cy="686.2" rx="3.1" ry="3.6"/>
<ellipse class="m" cx="362.1" cy="685.0" rx="3.1" ry="3.6"/>
<ellipse class="m" cx="372.1" cy="686.7" rx="3.1" ry="3.6"/>
<ellipse class="m" cx="382.0" cy="665.5" rx="3.1" ry="3.6"/>
<ellipse class="m" cx="392.0" cy="657.2" rx="3.1" ry="3.6"/>
<ellipse class="m" cx="401.9" cy="652.5" rx="3.1" ry="3.6"/>
<ellipse class="m" cx="411.8" cy="648.7" rx="3.1" ry="3.6"/>
<ellipse class="m" cx="421.8" cy="644.5" rx="3.1" ry="3.6"/>
<ellipse class="m" cx="431.7" cy="641.7" rx="3.1" ry="3.6"/>
<ellipse class="m" cx="441.6" cy="640.5" rx="3.1" ry="3.6"/>
<ellipse class="m" cx="451.6" cy="639.2" rx="3.1" ry="3.6"/>
<ellipse class="m" cx="461.5" cy="637.5" rx="3.1" ry="3.6"/>
<ellipse class="m" cx="471.5" cy="634.5" rx="3.1" ry="3.6"/>
<ellipse class="m" cx="481.4" cy="637.8" rx="3.1" ry="3.6"/>
<ellipse class="m" cx="491.3" cy="643.3" rx="3.1" ry="3.6"/>
<ellipse class="m" cx="501.3" cy="647.8" rx="3.1" ry="3.6"/>
<ellipse class="m" cx="511.2" cy="655.5" rx="3.1" ry="3.6"/>
<ellipse class="m" cx="521.1" cy="660.3" rx="3.1" ry="3.6"/>
<ellipse class="m" cx="531.1" cy="668.7" rx="3.1" ry="3.6"/>
<ellipse class="m" cx="541.0" cy="672.8" rx="3.1" ry="3.6"/>
<ellipse class="m" cx="551.0" cy="673.3" rx="3.1" ry="3.6"/>
<ellipse class="m" cx="560.9" cy="672.8" rx="3.1" ry="3.6"/>
<ellipse class="m" cx="570.8" cy="679.2" rx="3.1" ry="3.6"/>
<ellipse class="m" cx="580.8" cy="678.0" rx="3.1" ry="3.6"/>
<ellipse class="m" cx="590.7" cy="684.2" rx="3.1" ry="3.6"/>
<ellipse class="m" cx="600.6" cy="682.0" rx="3.1" ry="3.6"/>
<ellipse class="m" cx="610.6" cy="690.3" rx="3.1" ry="3.6"/>
<ellipse class="m" cx="620.5" cy="695.5" rx="3.1" ry="3.6"/>
<ellipse class="m" cx="630.5" cy="696.3" rx="3.1" ry="3.6"/>
<ellipse class="m" cx="640.4" cy="697.0" rx="3.1" ry="3.6"/>
<ellipse class="m" cx="650.3" cy="701.2" rx="3.1" ry="3.6"/>
<ellipse class="m" cx="660.3" cy="703.3" rx="3.1" ry="3.6"/>
<ellipse class="m" cx="670.2" cy="708.0" rx="3.1" ry="3.6"/>
<ellipse class="m" cx="680.1" cy="702.5" rx="3.1" ry="3.6"/>
<ellipse class="m" cx="690.1" cy="709.2" rx="3.1" ry="3.6"/>
<ellipse class="m" cx="700.0" cy="712.2" rx="3.1" ry="3.6"/>
<ellipse class="m" cx="710.0" cy="710.3" rx="3.1" ry="3.6"/>
<ellipse class="m" cx="719.9" cy="709.2" rx="3.1" ry="3.6"/>
<ellipse class="m" cx="729.8" cy="712.8" rx="3.1" ry="3.6"/>
<ellipse class="m" cx="739.8" cy="709.7" rx="3.1" ry="3.6"/>
<ellipse class="m" cx="749.7" cy="708.8" rx="3.1" ry="3.6"/>
<ellipse class="m" cx="759.6" cy="710.3" rx="3.1" ry="3.6"/>
<ellipse class="m" cx="769.6" cy="692.8" rx="3.1" ry="3.6"/>
<ellipse class="m" cx="779.5" cy="682.5" rx="3.1" ry="3.6"/>
<ellipse class="m" cx="789.5" cy="669.5" rx="3.1" ry="3.6"/>
<ellipse class="m" cx="799.4" cy="669.7" rx="3.1" ry="3.6"/>
<ellipse class="m" cx="809.3" cy="672.0" rx="3.1" ry="3.6"/>
<ellipse class="m" cx="819.3" cy="672.5" rx="3.1" ry="3.6"/>
<ellipse class="m" cx="829.2" cy="678.3" rx="3.1" ry="3.6"/>
<ellipse class="m" cx="839.1" cy="673.7" rx="3.1" ry="3.6"/>
<ellipse class="m" cx="849.1" cy="669.5" rx="3.1" ry="3.6"/>
<ellipse class="m" cx="859.0" cy="672.5" rx="3.1" ry="3.6"/>
</g>
<path class="t" d="M223.5 730.5V735M302.5 730.5V735M382.5 730.5V735M461.5 730.5V735M541.5 730.5V735M620.5 730.5V735M700.5 730.5V735M779.5 730.5V735M859.5 730.5V735"/>
<g font-size="16.86" fill="#000" stroke="#fff" stroke-width="0.15">
<text x="204.4" y="749.7" textLength="38.3" lengthAdjust="spacingAndGlyphs">18APR</text>
<text x="283.4" y="749.7" textLength="38.3" lengthAdjust="spacingAndGlyphs">19APR</text>
<text x="363.7" y="749.7" textLength="38.0" lengthAdjust="spacingAndGlyphs">20APR</text>
<text x="442.7" y="749.7" textLength="38.0" lengthAdjust="spacingAndGlyphs">21APR</text>
<text x="522.7" y="749.7" textLength="38.0" lengthAdjust="spacingAndGlyphs">22APR</text>
<text x="601.7" y="749.7" textLength="38.0" lengthAdjust="spacingAndGlyphs">23APR</text>
<text x="681.7" y="749.7" textLength="38.0" lengthAdjust="spacingAndGlyphs">24APR</text>
<text x="760.7" y="749.7" textLength="38.0" lengthAdjust="spacingAndGlyphs">25APR</text>
<text x="840.7" y="749.7" textLength="38.0" lengthAdjust="spacingAndGlyphs">26APR</text>
</g>
<g font-size="16.86" fill="#000" stroke="#fff" stroke-width="0.15">
<text x="207.3" y="766.0" textLength="31.6" lengthAdjust="spacingAndGlyphs">2026</text>
</g>
<g font-size="13.08" fill="#000">
<text x="621.4" y="768.0" textLength="41.7" lengthAdjust="spacingAndGlyphs">Fuente:</text>
<text x="668.6" y="768.0" textLength="30.1" lengthAdjust="spacingAndGlyphs">Model</text>
<text x="705.5" y="768.0" textLength="58.7" lengthAdjust="spacingAndGlyphs">WaveWatch</text>
<text x="772.1" y="766.9" textLength="8.4" lengthAdjust="spacingAndGlyphs">&#8211;</text>
<text x="785.6" y="768.0" textLength="63.9" lengthAdjust="spacingAndGlyphs">NCEP/NOAA</text>
</g>
<g font-size="14.53" fill="#000" stroke="#fff" stroke-width="0.08">
<text x="194.7" y="787.0" textLength="71.7" lengthAdjust="spacingAndGlyphs">INTENSIDAD</text>
<text x="274.3" y="787.0" textLength="22.3" lengthAdjust="spacingAndGlyphs">DEL</text>
<text x="303.7" y="787.0" textLength="46.6" lengthAdjust="spacingAndGlyphs">OLEAJE</text>
<text x="357.7" y="787.0" textLength="29.1" lengthAdjust="spacingAndGlyphs">&gt;&gt;&gt;</text>
</g>
<g font-size="13.81" fill="#00a0ff" font-weight="700">
<text x="441.0" y="786.5" textLength="39.5" lengthAdjust="spacingAndGlyphs">Ligero</text>
</g>
<g font-size="13.81" fill="#00d28c" font-weight="700">
<text x="531.9" y="786.5" textLength="62.5" lengthAdjust="spacingAndGlyphs">Moderado</text>
</g>
<g font-size="13.81" fill="#e6dc32" font-weight="700">
<text x="645.5" y="786.5" textLength="41.0" lengthAdjust="spacingAndGlyphs">Fuerte</text>
</g>
<g font-size="13.81" fill="#fa3c3c" font-weight="700">
<text x="735.6" y="786.5" textLength="9.6" lengthAdjust="spacingAndGlyphs">M</text>
<text x="752.0" y="786.5" textLength="40.4" lengthAdjust="spacingAndGlyphs">Fuerte</text>
</g>
<path d="M404.0 782.2H411.5M407.8 777.6V786.9M415.1 782.2H422.6M418.9 777.6V786.9M426.3 782.2H433.8M430.1 777.6V786.9" stroke="#00a0ff" stroke-width="1.9" fill="none"/>
<path d="M495.2 782.2H502.7M498.9 777.6V786.9M506.2 782.2H513.8M510.0 777.6V786.9M517.3 782.2H524.8M521.0 777.6V786.9" stroke="#00d28c" stroke-width="1.9" fill="none"/>
<path d="M608.0 782.2H615.5M611.8 777.6V786.9M619.0 782.2H626.5M622.8 777.6V786.9M630.1 782.2H637.6M633.9 777.6V786.9" stroke="#e6dc32" stroke-width="1.9" fill="none"/>
<path d="M698.0 782.2H705.5M701.8 777.6V786.9M709.0 782.2H716.5M712.8 777.6V786.9M720.1 782.2H727.6M723.9 777.6V786.9" stroke="#fa3c3c" stroke-width="1.9" fill="none"/>
</svg></body></html>
